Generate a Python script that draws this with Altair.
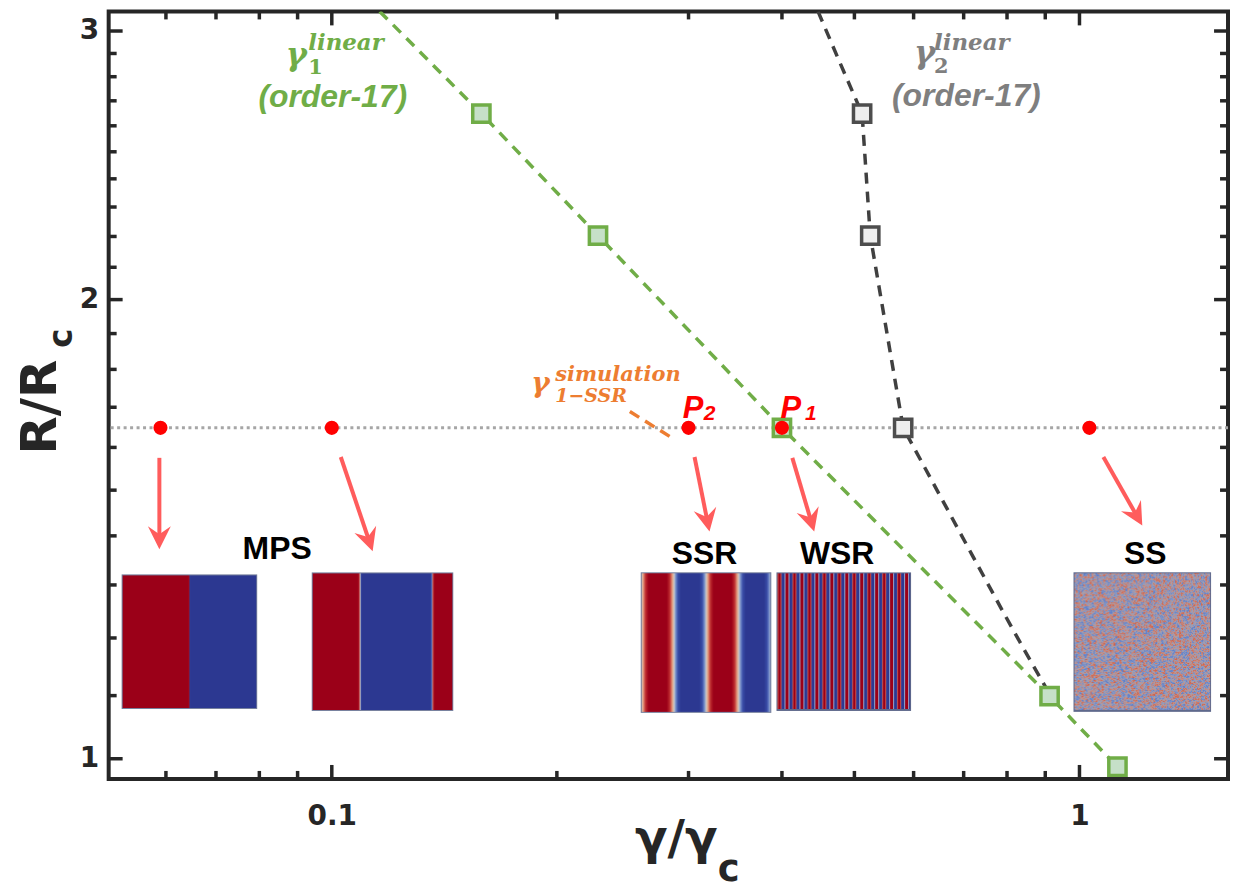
import base64
import struct
import zlib

import altair as alt
import numpy as np
import pandas as pd

# ---------------- data ----------------
# gamma_1 linear (order-17) : dashed green line + square markers
g1_line_x = [0.1159, 0.1585, 0.227, 0.4, 0.912, 1.124]
g1_line_y = [3.09, 2.648, 2.203, 1.648, 1.099, 0.988]
g1_mark_x = [0.1585, 0.227, 0.4, 0.912, 1.124]
g1_mark_y = [2.648, 2.203, 1.648, 1.099, 0.988]

# gamma_2 linear (order-17) : dashed dark-grey line + square markers
g2_line_x = [0.447, 0.477, 0.512, 0.525, 0.581, 0.655, 0.718, 0.787, 0.850, 0.904]
g2_line_y = [3.09, 2.868, 2.648, 2.203, 1.648, 1.479, 1.361, 1.253, 1.171, 1.111]
g2_mark_x = [0.512, 0.525, 0.581]
g2_mark_y = [2.648, 2.203, 1.648]

# gamma_1-SSR simulation : short orange dashed segment
sim_x = [0.2504, 0.2875]
sim_y = [1.689, 1.619]

# simulation points (red) on R/Rc = 1.648
pts_x = [0.059, 0.1, 0.3, 0.4, 1.031]
pts_y = [1.648, 1.648, 1.648, 1.648, 1.648]
level_r = [1.648]

# arrows from points to the pattern snapshots
arr_x1 = [0.0588, 0.1028, 0.3056, 0.413, 1.0764]
arr_y1 = [1.575, 1.577, 1.577, 1.575, 1.577]
arr_x2 = [0.0588, 0.1134, 0.3200, 0.4418, 1.2134]
arr_y2 = [1.372, 1.368, 1.409, 1.409, 1.422]

# axis ticks
x_major = [0.1, 1]
x_minor = [0.06, 0.07, 0.08, 0.09, 0.2, 0.3, 0.4, 0.5, 0.6, 0.7, 0.8, 0.9]
y_major = [1, 2, 3]
y_minor = [1.1, 1.2, 1.3, 1.4, 1.5, 1.6, 1.7, 1.8, 1.9,
           2.1, 2.2, 2.3, 2.4, 2.5, 2.6, 2.7, 2.8, 2.9]

# pattern snapshots: name, centre x, centre y
snap_names = ["MPS1", "MPS2", "SSR", "WSR", "SS"]
snap_x = [0.0645, 0.1169, 0.3166, 0.4839, 1.2134]
snap_y = [1.1933, 1.1933, 1.1917, 1.1933, 1.1926]

# ---------------- layout ----------------
W, H = 1123, 770
XMIN, XMAX = 0.0503, 1.58
YMIN, YMAX = 0.970, 3.09
PXX = W / (np.log10(XMAX) - np.log10(XMIN))
PXY = H / (np.log10(YMAX) - np.log10(YMIN))

AX = "#262626"
GREEN = "#70ad47"
GREY = "#7f7f7f"
DARK = "#404040"
ORANGE = "#ed7d31"
RED = "#ff0000"
SALMON = "#ff5c5c"

XS = alt.Scale(type="log", domain=[XMIN, XMAX], nice=False)
YS = alt.Scale(type="log", domain=[YMIN, YMAX], nice=False)
XAX = alt.Axis(values=x_major, format="~g", labelFont="DejaVu Sans", labelFontSize=28,
               labelFontWeight="bold", labelColor=AX, ticks=False, tickSize=0, domain=False,
               grid=False, labelPadding=24, title=None, labelFlush=False)
YAX = alt.Axis(values=y_major, format="~g", labelFont="DejaVu Sans", labelFontSize=28,
               labelFontWeight="bold", labelColor=AX, ticks=False, tickSize=0, domain=False,
               grid=False, labelPadding=10, title=None, labelFlush=False)


def X(f):
    return alt.X(f, type="quantitative", scale=XS, axis=XAX)


def Y(f):
    return alt.Y(f, type="quantitative", scale=YS, axis=YAX)


# ---------------- snapshot images ----------------
def png_url(rgb):
    rgb = np.ascontiguousarray(np.clip(rgb, 0, 255).astype(np.uint8))
    h, w, _ = rgb.shape
    raw = b"".join(b"\x00" + rgb[i].tobytes() for i in range(h))

    def chunk(tag, data):
        c = struct.pack(">I", len(data)) + tag + data
        return c + struct.pack(">I", zlib.crc32(tag + data) & 0xFFFFFFFF)

    png = (b"\x89PNG\r\n\x1a\n"
           + chunk(b"IHDR", struct.pack(">IIBBBBB", w, h, 8, 2, 0, 0, 0))
           + chunk(b"IDAT", zlib.compress(raw, 9))
           + chunk(b"IEND", b""))
    return "data:image/png;base64," + base64.b64encode(png).decode()


CM_T = [-1, -0.6, -0.25, 0, 0.25, 0.6, 1]
CM_R = [44, 58, 125, 212, 228, 192, 155]
CM_G = [56, 78, 150, 204, 155, 45, 0]
CM_B = [145, 168, 208, 196, 125, 48, 24]

SS_T = [-1, -0.45, 0, 0.45, 1]
SS_R = [85, 135, 168, 200, 212]
SS_G = [122, 152, 160, 140, 90]
SS_B = [205, 198, 172, 130, 62]


def colorize(v, t, r, g, b):
    return np.stack([np.interp(v, t, r), np.interp(v, t, g), np.interp(v, t, b)], axis=-1)


def stripes(w, h, profile):
    xs = np.arange(w) + 0.5
    v = profile(xs)
    return colorize(np.tile(v, (h, 1)), CM_T, CM_R, CM_G, CM_B)


def border(img, col=(115, 125, 155), bottom=1):
    img[0, :, :] = col
    img[:, 0, :] = col
    img[:, -1, :] = col
    img[-bottom:, :, :] = col
    return img


mps1 = border(stripes(136, 135, lambda x: -np.tanh(3.0 * (x - 68))))
mps2 = border(stripes(142, 139, lambda x: np.tanh(0.9 * (x - 48.5)) * np.tanh(0.9 * (x - 121))))
ssr = border(stripes(131, 141, lambda x: np.clip(1.55 * np.cos(2 * np.pi * (x - 17) / 65.0), -1, 1)))
wsr = border(stripes(135, 139, lambda x: np.clip(1.6 * np.cos(2 * np.pi * (x - 3) / 7.5), -1, 1)),
             col=(95, 105, 140), bottom=2)

sw, sh = 138, 140
jj, ii = np.meshgrid(np.arange(sw), np.arange(sh))
n1 = np.modf(np.abs(np.sin(ii * 12.9898 + jj * 78.233) * 43758.5453))[0]
n2 = np.modf(np.abs(np.sin((ii // 2) * 39.3468 + (jj // 2) * 11.135) * 24634.6345))[0]
noise = np.tanh(1.6 * ((0.5 * n1 + 0.5 * n2) * 2 - 1))
ss = border(colorize(noise, SS_T, SS_R, SS_G, SS_B), col=(95, 105, 140), bottom=2)

snap_imgs = [mps1, mps2, ssr, wsr, ss]
snap_sizes = [(136, 135), (142, 139), (131, 141), (135, 139), (138, 140)]

# ---------------- layers ----------------
layers = []

# dotted horizontal reference line
layers.append(
    alt.Chart(pd.DataFrame({"r": level_r})).mark_rule(
        color="#a6a6a6", strokeWidth=3, strokeDash=[3, 3.5]
    ).encode(y=Y("r"))
)

# snapshots
for name, sx, sy, img, (iw, ih) in zip(snap_names, snap_x, snap_y, snap_imgs, snap_sizes):
    df = pd.DataFrame({"x": [sx], "y": [sy], "url": [png_url(img)]})
    layers.append(
        alt.Chart(df).mark_image(width=iw, height=ih, aspect=False).encode(
            x=X("x"), y=Y("y"), url="url:N"
        )
    )


def dashed(xs, ys, color, dash):
    df = pd.DataFrame({"x": xs, "y": ys, "i": range(len(xs))})
    return alt.Chart(df).mark_line(color=color, strokeWidth=3.5, strokeDash=dash, clip=True).encode(
        x=X("x"), y=Y("y"), order="i:Q"
    )


layers.append(dashed(g1_line_x, g1_line_y, GREEN, [11, 8]))
layers.append(dashed(g2_line_x, g2_line_y, DARK, [11, 8]))
layers.append(dashed(sim_x, sim_y, ORANGE, [11, 7]))

layers.append(
    alt.Chart(pd.DataFrame({"x": g1_mark_x, "y": g1_mark_y})).mark_point(
        shape="square", size=300, fill="#c6e0c8", fillOpacity=1, stroke=GREEN,
        strokeWidth=3.5, opacity=1
    ).encode(x=X("x"), y=Y("y"))
)
layers.append(
    alt.Chart(pd.DataFrame({"x": g2_mark_x, "y": g2_mark_y})).mark_point(
        shape="square", size=300, fill="#eeeeee", fillOpacity=1, stroke="#4d4d4d",
        strokeWidth=3.5, opacity=1
    ).encode(x=X("x"), y=Y("y"))
)

# red points
layers.append(
    alt.Chart(pd.DataFrame({"x": pts_x, "y": pts_y})).mark_circle(
        size=200, color=RED, opacity=1
    ).encode(x=X("x"), y=Y("y"))
)

# arrows
ax1, ay1, ax2, ay2 = map(np.array, (arr_x1, arr_y1, arr_x2, arr_y2))
dx = PXX * (np.log10(ax2) - np.log10(ax1))
dy = PXY * (np.log10(ay1) - np.log10(ay2))
length = np.hypot(dx, dy)
frac = 1 - 10.0 / length
sx2 = 10 ** (np.log10(ax1) + frac * (np.log10(ax2) - np.log10(ax1)))
sy2 = 10 ** (np.log10(ay1) + frac * (np.log10(ay2) - np.log10(ay1)))
angle = np.mod(np.degrees(np.arctan2(-dx, dy)), 360)
arrows = pd.DataFrame({"x1": arr_x1, "y1": arr_y1, "x2": sx2, "y2": sy2,
                       "tx": arr_x2, "ty": arr_y2, "ang": angle})
layers.append(
    alt.Chart(arrows).mark_rule(color=SALMON, strokeWidth=4).encode(
        x=X("x1"), y=Y("y1"), x2="x2:Q", y2="y2:Q"
    )
)
layers.append(
    alt.Chart(arrows).mark_point(
        shape="M0,0 L-1,-2 L0,-1.3 L1,-2 Z", size=530, filled=True, color=SALMON, opacity=1
    ).encode(x=X("tx"), y=Y("ty"), angle=alt.Angle("ang:Q", scale=None))
)


# ticks (inward, on all four sides)
def xticks(vals, ln):
    d = pd.DataFrame({"v": vals})
    bot = alt.Chart(d).mark_rule(color=AX, strokeWidth=3.5).encode(
        x=X("v"), y=alt.value(H), y2=alt.value(H - ln))
    top = alt.Chart(d).mark_rule(color=AX, strokeWidth=3.5).encode(
        x=X("v"), y=alt.value(0), y2=alt.value(ln))
    return [bot, top]


def yticks(vals, ln):
    d = pd.DataFrame({"v": vals})
    lef = alt.Chart(d).mark_rule(color=AX, strokeWidth=3.5).encode(
        y=Y("v"), x=alt.value(0), x2=alt.value(ln))
    rig = alt.Chart(d).mark_rule(color=AX, strokeWidth=3.5).encode(
        y=Y("v"), x=alt.value(W), x2=alt.value(W - ln))
    return [lef, rig]


layers += xticks(x_minor, 8) + xticks(x_major, 14) + yticks(y_minor, 8) + yticks(y_major, 14)

# annotations in data coordinates
ann = [
    # text, x, y, size, color, font, style, align
    ("γ", 0.0868, 2.851, 32, GREEN, "DejaVu Serif", "italic", "left"),
    ("1", 0.0930, 2.812, 21, GREEN, "DejaVu Serif", "normal", "left"),
    ("linear", 0.0930, 2.915, 23, GREEN, "DejaVu Serif", "italic", "left"),
    ("(order-17)", 0.1003, 2.676, 32, GREEN, "Liberation Sans", "italic", "center"),
    ("γ", 0.6006, 2.859, 32, GREY, "DejaVu Serif", "italic", "left"),
    ("2", 0.6390, 2.817, 21, GREY, "DejaVu Serif", "normal", "left"),
    ("linear", 0.6390, 2.915, 23, GREY, "DejaVu Serif", "italic", "left"),
    ("(order-17)", 0.7058, 2.680, 32, GREY, "Liberation Sans", "italic", "center"),
    ("γ", 0.1848, 1.740, 28, ORANGE, "DejaVu Serif", "italic", "left"),
    ("simulation", 0.1990, 1.770, 21, ORANGE, "DejaVu Serif", "italic", "left"),
    ("1−SSR", 0.1990, 1.714, 19, ORANGE, "DejaVu Serif", "italic", "left"),
    ("P", 0.2946, 1.672, 31, RED, "Liberation Sans", "italic", "left"),
    ("2", 0.3143, 1.668, 21, RED, "Liberation Sans", "italic", "left"),
    ("P", 0.3981, 1.672, 31, RED, "Liberation Sans", "italic", "left"),
    ("1", 0.4295, 1.668, 21, RED, "Liberation Sans", "italic", "left"),
    ("MPS", 0.0845, 1.351, 32, "#000000", "Liberation Sans", "normal", "center"),
    ("SSR", 0.3151, 1.341, 32, "#000000", "Liberation Sans", "normal", "center"),
    ("WSR", 0.4742, 1.341, 32, "#000000", "Liberation Sans", "normal", "center"),
    ("SS", 1.2246, 1.341, 32, "#000000", "Liberation Sans", "normal", "center"),
]
for t, x, y, s, c, f, st, al in ann:
    layers.append(
        alt.Chart(pd.DataFrame({"x": [x], "y": [y], "t": [t]})).mark_text(
            font=f, fontSize=s, fontWeight="bold", fontStyle=st, color=c,
            align=al, baseline="alphabetic"
        ).encode(x=X("x"), y=Y("y"), text="t:N")
    )

# axis titles (outside the plot area)
titles = [
    ("γ/γ", 528, 845, 48, 0, "left"),
    ("c", 611, 872, 37, 0, "left"),
    ("R/R", -53, 397, 50, 270, "center"),
    ("c", -37, 328, 33, 270, "center"),
]
for t, px, py, s, a, al in titles:
    layers.append(
        alt.Chart(pd.DataFrame({"t": [t]})).mark_text(
            font="DejaVu Sans", fontSize=s, fontWeight="bold", color=AX, angle=a,
            align=al, baseline="alphabetic"
        ).encode(x=alt.value(px), y=alt.value(py), text="t:N")
    )

chart = alt.layer(*layers).properties(
    width=W, height=H,
    autosize=alt.AutoSizeParams(type="none"),
    padding={"left": 101, "top": 2, "right": 3, "bottom": 110},
    background="white",
).configure_view(stroke=AX, strokeWidth=4)

chart.save("out.html", embed_options={"renderer": "svg", "actions": False})
